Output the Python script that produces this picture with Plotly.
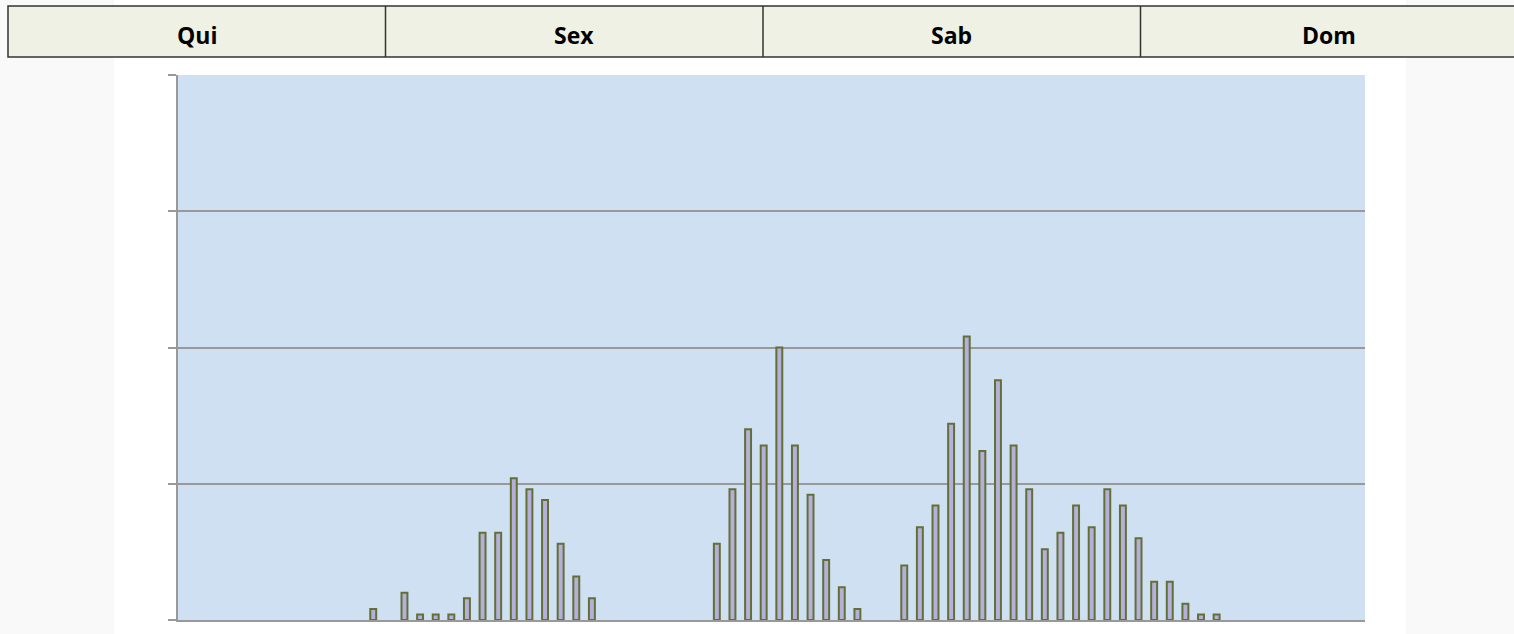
import plotly.graph_objects as go

# header days and slots of the activity histogram
days = ["Qui", "Sex", "Sab", "Dom"]
slots = [12, 14, 15, 16, 17, 18, 19, 20, 21, 22, 23, 24, 25, 26,
         34, 35, 36, 37, 38, 39, 40, 41, 42, 43,
         46, 47, 48, 49, 50, 51, 52, 53, 54, 55, 56, 57, 58, 59, 60, 61, 62, 63, 64, 65, 66]
values = [2, 5, 1, 1, 1, 4, 16, 16, 26, 24, 22, 14, 8, 4,
          14, 24, 35, 32, 50, 32, 23, 11, 6, 2,
          10, 17, 21, 36, 52, 31, 44, 32, 24, 13, 16, 21, 17, 24, 21, 15, 7, 7, 3, 1, 1]
n_slots = 76

W, H = 1514, 634
L, R, T, B = 178, 149, 75, 14
pw, ph = W - L - R, H - T - B


def px_x(p):
    return (p - L) / pw


def px_y(p):
    return (H - B - p) / ph


fig = go.Figure()
fig.add_bar(
    x=slots,
    y=values,
    width=0.38,
    marker=dict(color="#b5afdc", line=dict(color="#627034", width=2)),
    hoverinfo="x+y",
)

shapes = [
    # faint slide background at the sides
    dict(type="rect", xref="paper", yref="paper", x0=px_x(0), x1=px_x(114),
         y0=px_y(634), y1=px_y(0), fillcolor="#f9f9f9", line_width=0, layer="below"),
    dict(type="rect", xref="paper", yref="paper", x0=px_x(1406), x1=px_x(1514),
         y0=px_y(634), y1=px_y(0), fillcolor="#f9f9f9", line_width=0, layer="below"),
    dict(type="rect", xref="paper", yref="paper", x0=px_x(8), x1=px_x(1525),
         y0=px_y(57), y1=px_y(6), fillcolor="#eef1e4",
         line=dict(color="#333333", width=1.5)),
]
col_w = 377.5
annotations = []
for i, d in enumerate(days):
    x0 = 8 + i * col_w
    if i > 0:
        shapes.append(dict(type="line", xref="paper", yref="paper",
                           x0=px_x(x0), x1=px_x(x0), y0=px_y(57), y1=px_y(6),
                           line=dict(color="#333333", width=1.5)))
    annotations.append(dict(
        text=f"<b>{d}</b>", xref="paper", yref="paper",
        x=px_x(x0 + col_w / 2), y=px_y(35), xanchor="center", yanchor="middle",
        showarrow=False,
        font=dict(family="Open Sans", size=23, color="#000000"),
    ))

fig.update_layout(
    width=W, height=H,
    margin=dict(l=L, r=R, t=T, b=B),
    paper_bgcolor="white",
    plot_bgcolor="#cfe0f2",
    showlegend=False,
    shapes=shapes,
    annotations=annotations,
    xaxis=dict(range=[-0.5, n_slots - 0.5], showticklabels=False, showgrid=False,
               zeroline=False, showline=True, linecolor="#999999", linewidth=2, ticks=""),
    yaxis=dict(range=[0, 100], dtick=25, showticklabels=False, showgrid=True,
               gridcolor="#999999", gridwidth=2, zeroline=False, showline=True,
               linecolor="#999999", linewidth=2, ticks="outside", ticklen=8,
               tickcolor="#999999", tickwidth=2),
)

fig.write_html("out.html", config={"displayModeBar": False},
               post_script="document.body.style.margin='0';")
